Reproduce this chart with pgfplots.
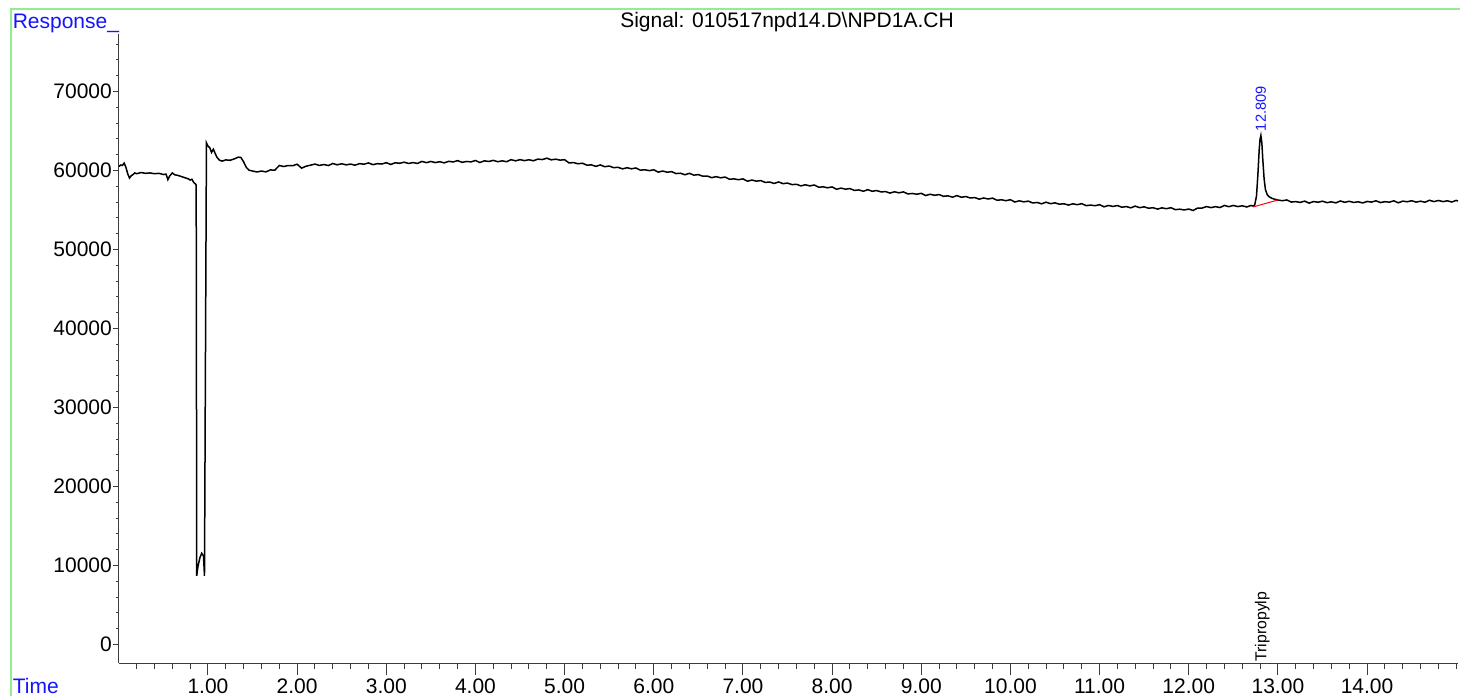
\documentclass[border=0pt]{standalone}
\usepackage{fontspec}
\setmainfont{Liberation Sans}
\usepackage{pgfplots}
\pgfplotsset{compat=1.18}
\definecolor{framegreen}{RGB}{144,238,144}
\definecolor{labelblue}{RGB}{20,20,255}
\definecolor{axisgray}{RGB}{60,60,60}
\newcommand{\labelfont}{\fontsize{10.5}{12}\selectfont}

\begin{document}
\begin{tikzpicture}
\useasboundingbox (0,0) rectangle (730pt,348pt);
% page frame
\draw[framegreen, line width=0.7pt] (5.5pt,0pt) -- (5.5pt,343.5pt) -- (730pt,343.5pt);

% signal trace and y axis
\begin{axis}[
  at={(59.4pt,16.5pt)}, anchor=south west,
  scale only axis, width=669.6pt, height=314.5pt,
  xmin=0, xmax=15.02, ymin=-2340, ymax=77290,
  axis x line=none, axis y line*=left,
  axis line style={axisgray, line width=0.5pt, -},
  ytick={0,10000,...,70000},
  minor ytick={2000,4000,...,76000},
  scaled y ticks=false,
  tick align=outside, major tick length=3pt, minor tick length=1.3pt,
  tick style={axisgray, line width=0.5pt},
  /pgf/number format/assume math mode=true,
  yticklabel style={font=\labelfont, inner sep=0pt, xshift=-0.3pt, /pgf/number format/fixed, /pgf/number format/1000 sep={}},
]
\addplot[black, line width=0.75pt] table {
t v
0.00 60500
0.02 60700
0.04 60650
0.06 60950
0.08 60400
0.10 59600
0.12 59050
0.14 59350
0.16 59500
0.18 59700
0.20 59600
0.25 59750
0.30 59650
0.35 59700
0.40 59600
0.45 59650
0.50 59500
0.53 59550
0.55 58850
0.57 59300
0.60 59700
0.63 59450
0.66 59400
0.70 59250
0.74 59100
0.78 58950
0.80 58800
0.82 58900
0.84 58500
0.86 58300
0.868 58150
0.874 8700
0.888 9900
0.91 11000
0.93 11550
0.95 11200
0.961 8700
0.983 63500
1.00 63100
1.02 62900
1.04 62300
1.06 62700
1.08 62200
1.10 61700
1.13 61300
1.16 61200
1.20 61350
1.25 61300
1.30 61500
1.34 61700
1.37 61650
1.40 61100
1.43 60400
1.46 60050
1.50 59940
1.55 59820
1.60 59940
1.65 59830
1.70 60080
1.75 60050
1.80 60640
1.85 60510
1.90 60640
1.95 60610
2.00 60800
2.05 60310
2.10 60550
2.15 60680
2.20 60820
2.25 60650
2.30 60760
2.35 60640
2.40 60890
2.45 60730
2.50 60860
2.55 60720
2.60 60820
2.65 60680
2.70 60880
2.75 60800
2.80 60970
2.85 60750
2.90 60870
2.95 60830
3.00 61000
3.05 60770
3.10 60990
3.15 60920
3.20 61060
3.25 60900
3.30 61010
3.35 60900
3.40 61160
3.45 61000
3.50 61150
3.55 61010
3.60 61120
3.65 60970
3.70 61170
3.75 61090
3.80 61260
3.85 61040
3.90 61150
3.95 61100
4.00 61270
4.05 61020
4.10 61230
4.15 61150
4.20 61290
4.25 61120
4.30 61230
4.35 61120
4.40 61380
4.45 61230
4.50 61380
4.55 61260
4.60 61370
4.65 61240
4.70 61450
4.75 61390
4.80 61570
4.85 61360
4.90 61440
4.95 61320
5.00 61380
5.05 60960
5.10 61010
5.15 60860
5.20 60930
5.25 60680
5.30 60720
5.35 60530
5.40 60710
5.45 60490
5.50 60570
5.55 60370
5.60 60410
5.65 60210
5.70 60360
5.75 60220
5.80 60330
5.85 60050
5.90 60100
5.95 59990
6.00 60100
6.05 59800
6.10 59940
6.15 59790
6.20 59860
6.25 59620
6.30 59660
6.35 59470
6.40 59650
6.45 59420
6.50 59490
6.55 59280
6.60 59310
6.65 59100
6.70 59230
6.75 59080
6.80 59180
6.85 58900
6.90 58950
6.95 58840
7.00 58950
7.05 58650
7.10 58800
7.15 58660
7.20 58730
7.25 58500
7.30 58550
7.35 58370
7.40 58560
7.45 58340
7.50 58420
7.55 58220
7.60 58260
7.65 58060
7.70 58200
7.75 58060
7.80 58170
7.85 57890
7.90 57940
7.95 57820
8.00 57930
8.05 57630
8.10 57780
8.15 57640
8.20 57720
8.25 57490
8.30 57550
8.35 57380
8.40 57580
8.45 57380
8.50 57470
8.55 57290
8.60 57340
8.65 57150
8.70 57310
8.75 57180
8.80 57300
8.85 57040
8.90 57100
8.95 57000
9.00 57120
9.05 56840
9.10 57000
9.15 56870
9.20 56960
9.25 56740
9.30 56800
9.35 56630
9.40 56830
9.45 56620
9.50 56710
9.55 56530
9.60 56580
9.65 56380
9.70 56530
9.75 56400
9.80 56510
9.85 56240
9.90 56300
9.95 56190
10.00 56310
10.05 56020
10.10 56170
10.15 56040
10.20 56130
10.25 55900
10.30 55960
10.35 55790
10.40 56000
10.45 55810
10.50 55910
10.55 55740
10.60 55800
10.65 55630
10.70 55790
10.75 55680
10.80 55810
10.85 55560
10.90 55630
10.95 55550
11.00 55680
11.05 55410
11.10 55580
11.15 55460
11.20 55570
11.25 55360
11.30 55440
11.35 55280
11.40 55500
11.45 55300
11.50 55410
11.55 55230
11.60 55300
11.65 55120
11.70 55280
11.75 55170
11.80 55300
11.85 55050
11.90 55110
11.95 55010
12.00 55130
12.05 54950
12.10 55260
12.15 55250
12.20 55440
12.25 55310
12.30 55430
12.35 55320
12.40 55580
12.45 55430
12.50 55580
12.55 55440
12.60 55540
12.65 55390
12.70 55580
12.72 55500
12.74 55640
12.76 56800
12.775 59400
12.79 62600
12.80 64000
12.809 64450
12.82 63500
12.83 61500
12.845 59000
12.86 57600
12.88 56950
12.90 56700
12.93 56500
12.97 56350
13.00 56270
13.05 56180
13.10 56280
13.15 56010
13.20 56070
13.25 55970
13.30 56130
13.35 55880
13.40 56080
13.45 55990
13.50 56120
13.55 55940
13.60 56040
13.65 55910
13.70 56150
13.75 55980
13.80 56110
13.85 55960
13.90 56050
13.95 55900
14.00 56090
14.05 56010
14.10 56170
14.15 55950
14.20 56060
14.25 56000
14.30 56170
14.35 55920
14.40 56130
14.45 56050
14.50 56180
14.55 56010
14.60 56120
14.65 55990
14.70 56240
14.75 56070
14.80 56210
14.85 56070
14.90 56170
14.95 56020
15.00 56220
15.02 56150
};
% integration baseline under the peak
\addplot[red, line width=0.5pt] coordinates {(12.72,55390) (13.00,56270)};
\node[labelblue, font=\fontsize{7.3}{8.5}\selectfont, yshift=2pt, rotate=90, anchor=west, inner sep=0pt]
  at (axis cs:12.809,64450) {12.809};
\node[black, font=\fontsize{7.9}{9}\selectfont, yshift=0.6pt, rotate=90, anchor=base west, inner sep=0pt]
  at (axis cs:12.87,-2340) {Tripropylp};
\end{axis}

% time axis
\begin{axis}[
  at={(59.4pt,16.5pt)}, anchor=south west,
  scale only axis, width=669.6pt, height=314.5pt,
  xmin=0, xmax=15.02, ymin=-2340, ymax=77290,
  axis y line=none, axis x line*=bottom,
  axis line style={axisgray, line width=0.5pt, -},
  xtick={1,2,...,14},
  minor xtick={0.2,0.4,...,14.9},
  tick align=outside, major tick length=6pt, minor tick length=3pt,
  tick style={axisgray, line width=0.5pt},
  /pgf/number format/assume math mode=true,
  xticklabel style={font=\labelfont, inner sep=0pt, yshift=-1.5pt, /pgf/number format/fixed, /pgf/number format/fixed zerofill, /pgf/number format/precision=2},
]
\addplot[draw=none] coordinates {(0,0)};
\end{axis}

\node[anchor=base, font=\labelfont] at (393.5pt,334pt) {Signal: 010517npd14.D\textbackslash NPD1A.CH};
\node[anchor=base west, font=\labelfont, text=labelblue, inner sep=0pt] at (6.2pt,333.5pt) {Response\_};
\node[anchor=base west, font=\labelfont, text=labelblue, inner sep=0pt] at (6.2pt,1.2pt) {Time};
\end{tikzpicture}
\end{document}
